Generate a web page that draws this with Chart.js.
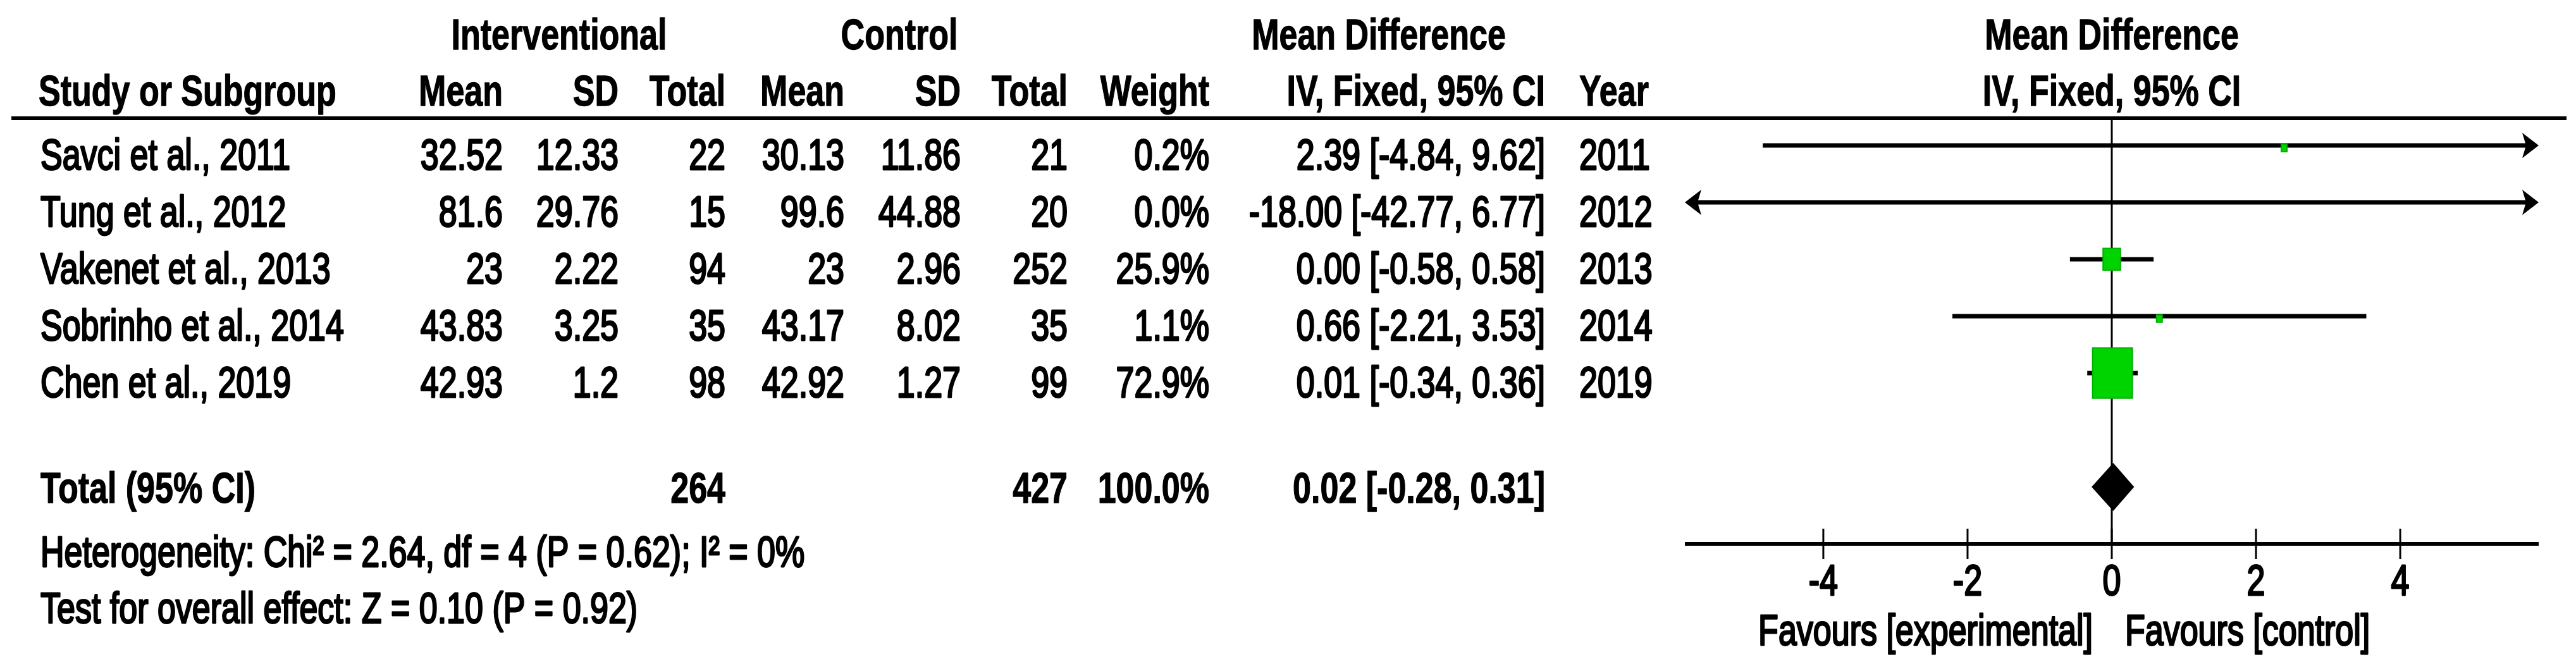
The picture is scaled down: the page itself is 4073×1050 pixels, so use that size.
<!DOCTYPE html>
<html>
<head>
<meta charset="utf-8">
<script src="https://cdn.jsdelivr.net/npm/chart.js@4"></script>
<style>
  html, body { margin: 0; padding: 0; background: #fff; }
  #wrap { width: 4073px; height: 1050px; position: relative; }
</style>
</head>
<body>
<div id="wrap"><canvas id="forest"></canvas></div>
<script>
// study data
var studies = ['Savci et al., 2011', 'Tung et al., 2012', 'Vakenet et al., 2013', 'Sobrinho et al., 2014', 'Chen et al., 2019'];
var intMean = [32.52, 81.6, 23, 43.83, 42.93];
var intSD = [12.33, 29.76, 2.22, 3.25, 1.2];
var intTotal = [22, 15, 94, 35, 98];
var ctlMean = [30.13, 99.6, 23, 43.17, 42.92];
var ctlSD = [11.86, 44.88, 2.96, 8.02, 1.27];
var ctlTotal = [21, 20, 252, 35, 99];
var weights = [0.2, 0.0, 25.9, 1.1, 72.9];
var meanDiff = [2.39, -18.00, 0.00, 0.66, 0.01];
var ciLow = [-4.84, -42.77, -0.58, -2.21, -0.34];
var ciHigh = [9.62, 6.77, 0.58, 3.53, 0.36];
var years = [2011, 2012, 2013, 2014, 2019];

// pooled result
var pooled = { intTotal: 264, ctlTotal: 427, weight: 100.0, md: 0.02, lo: -0.28, hi: 0.31 };
var heterogeneity = 'Heterogeneity: Chi\u00b2 = 2.64, df = 4 (P = 0.62); I\u00b2 = 0%';
var overallTest = 'Test for overall effect: Z = 0.10 (P = 0.92)';

var xTicks = [-4, -2, 0, 2, 4];
var xMin = -5.92, xMax = 5.92;

function ci(md, lo, hi) {
    return md.toFixed(2) + ' [' + lo.toFixed(2) + ', ' + hi.toFixed(2) + ']';
}

function txt(ctx, s, x, y, align, bold) {
    ctx.save();
    ctx.font = (bold ? 'bold ' : '') + '52px "Liberation Sans", Arial, sans-serif';
    ctx.fillStyle = '#000';
    ctx.strokeStyle = '#000';
    ctx.lineWidth = bold ? 1 : 2.2;
    ctx.lineJoin = 'round';
    ctx.textAlign = align;
    ctx.textBaseline = 'alphabetic';
    ctx.translate(x, y);
    ctx.scale(1, 1.33);
    ctx.fillText(s, 0, 0);
    ctx.strokeText(s, 0, 0);
    ctx.restore();
}

function arrow(ctx, x, y, dir) {
    ctx.beginPath();
    ctx.moveTo(x, y);
    ctx.lineTo(x - dir * 26, y - 20);
    ctx.lineTo(x - dir * 20, y);
    ctx.lineTo(x - dir * 26, y + 20);
    ctx.closePath();
    ctx.fill();
}

var forestPlugin = {
    id: 'forest',
    afterDraw: function(chart) {
        var ctx = chart.ctx;
        var xs = chart.scales.x, ys = chart.scales.y;
        var area = chart.chartArea;
        var axisY = ys.getPixelForValue(7);
        var zeroX = xs.getPixelForValue(0);

        // column headers
        txt(ctx, 'Interventional', 884, 78, 'center', true);
        txt(ctx, 'Control', 1422, 78, 'center', true);
        txt(ctx, 'Mean Difference', 2180, 78, 'center', true);
        txt(ctx, 'Mean Difference', zeroX, 78, 'center', true);
        txt(ctx, 'Study or Subgroup', 61, 167, 'left', true);
        txt(ctx, 'Mean', 795, 167, 'right', true);
        txt(ctx, 'SD', 978, 167, 'right', true);
        txt(ctx, 'Total', 1147, 167, 'right', true);
        txt(ctx, 'Mean', 1335, 167, 'right', true);
        txt(ctx, 'SD', 1519, 167, 'right', true);
        txt(ctx, 'Total', 1688, 167, 'right', true);
        txt(ctx, 'Weight', 1912, 167, 'right', true);
        txt(ctx, 'IV, Fixed, 95% CI', 2443, 167, 'right', true);
        txt(ctx, 'Year', 2497, 167, 'left', true);
        txt(ctx, 'IV, Fixed, 95% CI', zeroX, 167, 'center', true);

        // header rule
        ctx.save();
        ctx.strokeStyle = '#000';
        ctx.lineWidth = 6;
        ctx.beginPath();
        ctx.moveTo(18, 187);
        ctx.lineTo(4058, 187);
        ctx.stroke();
        ctx.restore();

        // study rows
        studies.forEach(function(name, i) {
            var yb = ys.getPixelForValue(i) + 38;
            txt(ctx, name, 64, yb, 'left', false);
            txt(ctx, String(intMean[i]), 795, yb, 'right', false);
            txt(ctx, String(intSD[i]), 978, yb, 'right', false);
            txt(ctx, String(intTotal[i]), 1147, yb, 'right', false);
            txt(ctx, String(ctlMean[i]), 1335, yb, 'right', false);
            txt(ctx, String(ctlSD[i]), 1519, yb, 'right', false);
            txt(ctx, String(ctlTotal[i]), 1688, yb, 'right', false);
            txt(ctx, weights[i].toFixed(1) + '%', 1912, yb, 'right', false);
            txt(ctx, ci(meanDiff[i], ciLow[i], ciHigh[i]), 2443, yb, 'right', false);
            txt(ctx, String(years[i]), 2497, yb, 'left', false);
        });

        // total row
        var yt = ys.getPixelForValue(6) + 25;
        txt(ctx, 'Total (95% CI)', 64, yt, 'left', true);
        txt(ctx, String(pooled.intTotal), 1147, yt, 'right', true);
        txt(ctx, String(pooled.ctlTotal), 1688, yt, 'right', true);
        txt(ctx, pooled.weight.toFixed(1) + '%', 1912, yt, 'right', true);
        txt(ctx, ci(pooled.md, pooled.lo, pooled.hi), 2443, yt, 'right', true);
        txt(ctx, heterogeneity, 64, 896, 'left', false);
        txt(ctx, overallTest, 64, 985, 'left', false);

        // line of no effect
        ctx.save();
        ctx.strokeStyle = '#000';
        ctx.lineWidth = 3;
        ctx.beginPath();
        ctx.moveTo(zeroX, 187);
        ctx.lineTo(zeroX, axisY);
        ctx.stroke();

        // confidence intervals
        ctx.fillStyle = '#000';
        ctx.lineWidth = 7;
        studies.forEach(function(name, i) {
            var y = ys.getPixelForValue(i);
            var lo = Math.max(ciLow[i], xMin), hi = Math.min(ciHigh[i], xMax);
            var x1 = xs.getPixelForValue(lo), x2 = xs.getPixelForValue(hi);
            ctx.beginPath();
            ctx.moveTo(ciLow[i] < xMin ? x1 + 18 : x1, y);
            ctx.lineTo(ciHigh[i] > xMax ? x2 - 18 : x2, y);
            ctx.stroke();
            if (ciLow[i] < xMin) arrow(ctx, x1, y, -1);
            if (ciHigh[i] > xMax) arrow(ctx, x2, y, 1);
        });

        // weight boxes
        studies.forEach(function(name, i) {
            if (meanDiff[i] < xMin || meanDiff[i] > xMax) return;
            var y = ys.getPixelForValue(i);
            var x = xs.getPixelForValue(meanDiff[i]);
            var w = Math.max(9, 63 * Math.pow(weights[i] / 72.9, 0.8));
            var h = w * 1.26;
            ctx.fillStyle = '#00d400';
            ctx.strokeStyle = '#00b000';
            ctx.lineWidth = 2;
            ctx.fillRect(x - w / 2, y - h / 2 + (w < 12 ? 4 : 0), w, h);
            ctx.strokeRect(x - w / 2, y - h / 2 + (w < 12 ? 4 : 0), w, h);
        });

        // pooled diamond
        var yd = ys.getPixelForValue(6);
        ctx.fillStyle = '#000';
        ctx.beginPath();
        ctx.moveTo(xs.getPixelForValue(pooled.lo), yd);
        ctx.lineTo(xs.getPixelForValue(pooled.md), yd - 38);
        ctx.lineTo(xs.getPixelForValue(pooled.hi), yd);
        ctx.lineTo(xs.getPixelForValue(pooled.md), yd + 38);
        ctx.closePath();
        ctx.fill();

        // x axis
        ctx.strokeStyle = '#000';
        ctx.lineWidth = 6;
        ctx.beginPath();
        ctx.moveTo(area.left, axisY);
        ctx.lineTo(area.right, axisY);
        ctx.stroke();
        ctx.lineWidth = 3;
        xTicks.forEach(function(t) {
            var x = xs.getPixelForValue(t);
            ctx.beginPath();
            ctx.moveTo(x, axisY - 24);
            ctx.lineTo(x, axisY + 24);
            ctx.stroke();
            txt(ctx, String(t), x, 941, 'center', false);
        });
        ctx.restore();

        txt(ctx, 'Favours [experimental]', zeroX - 30, 1020, 'right', false);
        txt(ctx, 'Favours [control]', zeroX + 21, 1020, 'left', false);
    }
};

var ctx = document.getElementById('forest').getContext('2d');
var forestChart = new Chart(ctx, {
    type: 'scatter',
    data: {
        datasets: [{
            label: 'Mean difference',
            data: meanDiff.map(function(v, i) { return { x: v, y: i }; }),
            pointRadius: 0,
            showLine: false
        }]
    },
    options: {
        responsive: true,
        maintainAspectRatio: false,
        animation: false,
        devicePixelRatio: 1,
        layout: { padding: { left: 2664, right: 59, top: 185, bottom: 190 } },
        plugins: { legend: { display: false }, tooltip: { enabled: false } },
        scales: {
            x: { type: 'linear', min: xMin, max: xMax, display: false },
            y: { type: 'linear', min: -0.5, max: 7, reverse: true, display: false }
        }
    },
    plugins: [forestPlugin]
});
</script>
</body>
</html>
